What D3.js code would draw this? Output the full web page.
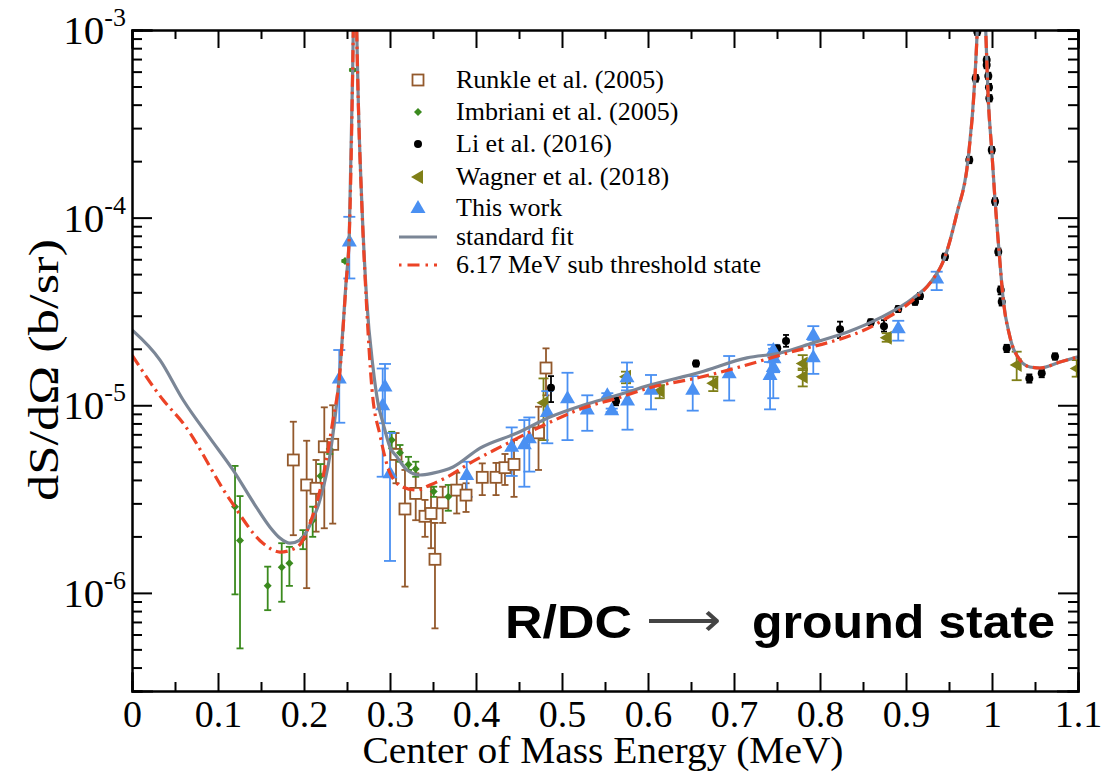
<!DOCTYPE html>
<html>
<head>
<script src="https://d3js.org/d3.v7.min.js"></script>
<style>
  body { margin: 0; background: #fff; }
  svg { display: block; }
  .ax path, .ax line { stroke: #000; stroke-width: 2; }
  .ax text { font-family: "Liberation Serif", "Times New Roman", serif; font-size: 38px; fill: #000; }
</style>
</head>
<body>
<svg id="chart" width="1104" height="773"></svg>
<script>
// fitted curves [E (MeV), dS/dOmega (b/sr)]
var stdFit = [
  [0, 2.52e-5], [0.0326, 1.74e-5], [0.0593, 1.07e-5], [0.0907, 6.68e-6], [0.1174, 4.52e-6],
  [0.143, 2.94e-6], [0.1605, 2.24e-6], [0.172, 1.96e-6], [0.1837, 1.84e-6], [0.1953, 1.91e-6],
  [0.207, 2.30e-6], [0.2186, 3.13e-6], [0.2302, 5.43e-6], [0.2384, 1.07e-5], [0.241, 1.41e-5],
  [0.2488, 4.48e-5], [0.2527, 8.28e-5], [0.2566, 6.12e-4], [0.2573, 1.0e-3], [0.2593, 5e-3],
  [0.2613, 1.0e-3], [0.2631, 4.24e-4], [0.2671, 1.24e-4], [0.2729, 3.64e-5], [0.2802, 1.60e-5],
  [0.286, 1.03e-5], [0.2919, 8.04e-6], [0.30, 5.98e-6], [0.3081, 5.30e-6], [0.3198, 4.52e-6],
  [0.3349, 4.25e-6], [0.35, 4.35e-6], [0.3733, 4.69e-6], [0.4047, 5.91e-6], [0.4477, 7.11e-6],
  [0.486, 8.65e-6], [0.5244, 1.0e-5], [0.564, 1.13e-5], [0.6023, 1.28e-5], [0.6605, 1.50e-5],
  [0.7151, 1.79e-5], [0.7535, 1.90e-5], [0.7919, 2.15e-5], [0.8314, 2.45e-5], [0.8698, 2.92e-5],
  [0.9081, 3.72e-5], [0.9279, 4.48e-5], [0.9453, 6.17e-5], [0.9593, 1.06e-4], [0.9721, 2.03e-4],
  [0.9802, 5.61e-4], [0.9829, 1.0e-3], [0.9878, 5e-3], [0.9927, 1.0e-3], [0.9957, 4.24e-4],
  [0.9997, 2.29e-4], [1.0035, 1.24e-4], [1.0081, 6.72e-5], [1.0131, 3.64e-5], [1.0209, 2.31e-5],
  [1.0326, 1.74e-5], [1.0442, 1.60e-5], [1.0558, 1.58e-5], [1.0791, 1.70e-5], [1.1, 1.81e-5]
];
var subFit = [
  [0, 1.85e-5], [0.036, 1.07e-5], [0.0593, 8.04e-6], [0.114, 3.13e-6], [0.1523, 1.84e-6],
  [0.172, 1.65e-6], [0.1919, 1.75e-6], [0.207, 2.35e-6], [0.2221, 4.14e-6], [0.2337, 8.34e-6],
  [0.241, 1.38e-5], [0.2488, 4.4e-5], [0.2527, 8.2e-5], [0.2566, 6.1e-4], [0.2573, 1.0e-3],
  [0.2593, 5e-3], [0.2613, 1.0e-3], [0.2631, 4.2e-4], [0.2671, 1.22e-4], [0.2729, 3.3e-5],
  [0.2791, 1.21e-5], [0.2884, 6.93e-6], [0.30, 4.35e-6], [0.3151, 3.66e-6], [0.3314, 3.53e-6],
  [0.3465, 3.76e-6], [0.3663, 4.14e-6], [0.393, 4.92e-6], [0.4279, 5.98e-6], [0.4744, 7.66e-6],
  [0.5244, 9.66e-6], [0.564, 1.09e-5], [0.6023, 1.24e-5], [0.6605, 1.41e-5], [0.7535, 1.85e-5],
  [0.8698, 2.78e-5], [0.9081, 3.64e-5], [0.9279, 4.48e-5], [0.9453, 6.17e-5], [0.9593, 1.06e-4],
  [0.9721, 2.03e-4], [0.9802, 5.61e-4], [0.9829, 1.0e-3], [0.9878, 5e-3], [0.9927, 1.0e-3],
  [0.9957, 4.24e-4], [0.9997, 2.29e-4], [1.0035, 1.24e-4], [1.0081, 6.72e-5], [1.0131, 3.64e-5],
  [1.0209, 2.31e-5], [1.0326, 1.74e-5], [1.0442, 1.60e-5], [1.0558, 1.58e-5], [1.0791, 1.70e-5],
  [1.1, 1.81e-5]
];

// data sets [E, S, S low, S high]
var runkle = [
  [0.1876, 5.11e-6, 2.03e-6, 8.17e-6], [0.2031, 3.76e-6, 1.06e-6, 6.47e-6], [0.214, 3.61e-6, 2.12e-6, 5.11e-6],
  [0.2236, 6.01e-6, 2.21e-6, 9.75e-6], [0.2334, 6.19e-6, 2.34e-6, 1.0e-5], [0.307, 5.47e-6, 3.84e-6, 7.11e-6],
  [0.3174, 2.80e-6, 1.08e-6, 4.52e-6], [0.3299, 3.39e-6, 2.44e-6, 4.34e-6], [0.3407, 2.56e-6, 1.99e-6, 3.13e-6],
  [0.3477, 2.65e-6, 1.73e-6, 3.68e-6], [0.3523, 1.51e-6, 6.47e-7, 2.36e-6], [0.3613, 3.02e-6, 2.36e-6, 3.68e-6],
  [0.3776, 3.53e-6, 2.65e-6, 4.37e-6], [0.3884, 3.32e-6, 2.70e-6, 3.84e-6], [0.4073, 4.13e-6, 3.32e-6, 4.90e-6],
  [0.4233, 4.13e-6, 3.32e-6, 4.93e-6], [0.4337, 4.65e-6, 3.76e-6, 5.50e-6], [0.4442, 4.84e-6, 3.25e-6, 6.52e-6],
  [0.4727, 7.13e-6, 4.52e-6, 9.82e-6], [0.4814, 1.58e-5, 1.13e-5, 2.01e-5]
];
var imbriani = [
  [0.1198, 2.88e-6, 9.82e-7, 4.75e-6], [0.1256, 1.90e-6, 5.06e-7, 3.28e-6], [0.1578, 1.09e-6, 8.09e-7, 1.38e-6],
  [0.1741, 1.37e-6, 8.97e-7, 1.84e-6], [0.183, 1.44e-6, 1.09e-6, 1.76e-6], [0.1988, 1.95e-6, 1.71e-6, 2.16e-6],
  [0.2101, 2.44e-6, 1.99e-6, 2.88e-6], [0.2192, 4.20e-6, 3.53e-6, 4.86e-6], [0.2299, 5.85e-6, 5.5e-6, 6.21e-6],
  [0.2477, 5.87e-5, 5.8e-5, 5.95e-5], [0.2566, 6.12e-4, 6.05e-4, 6.2e-4], [0.302, 6.52e-6, 5.89e-6, 7.22e-6],
  [0.3116, 5.58e-6, 5.0e-6, 6.14e-6], [0.3215, 4.84e-6, 4.52e-6, 5.31e-6], [0.3299, 4.57e-6, 4.16e-6, 5.0e-6],
  [0.3508, 3.47e-6, 3.25e-6, 3.68e-6], [0.3678, 3.25e-6, 2.74e-6, 3.76e-6]
];
var li = [
  [0.4872, 1.24e-5, 1.04e-5, 1.43e-5], [0.5628, 1.05e-5, 1.0e-5, 1.1e-5], [0.6558, 1.67e-5, 1.61e-5, 1.73e-5],
  [0.7503, 2.01e-5, 1.93e-5, 2.09e-5], [0.7605, 2.20e-5, 2.05e-5, 2.37e-5], [0.8233, 2.54e-5, 2.28e-5, 2.79e-5],
  [0.859, 2.77e-5, 2.67e-5, 2.87e-5], [0.8744, 2.64e-5, 2.47e-5, 2.84e-5], [0.891, 3.26e-5, 3.14e-5, 3.38e-5],
  [0.9105, 3.56e-5, 3.43e-5, 3.69e-5], [0.9163, 3.82e-5, 3.68e-5, 3.96e-5], [0.9453, 6.19e-5, 5.95e-5, 6.43e-5],
  [0.9736, 2.03e-4, 1.95e-4, 2.11e-4], [0.981, 5.53e-4, 5.3e-4, 5.76e-4], [0.9829, 9.8e-4, 9.4e-4, 1.0e-3],
  [0.9938, 6.92e-4, 6.65e-4, 7.2e-4], [0.9938, 6.50e-4, 6.25e-4, 6.76e-4], [0.9957, 5.69e-4, 5.47e-4, 5.92e-4],
  [0.9965, 4.96e-4, 4.77e-4, 5.16e-4], [0.9969, 4.33e-4, 4.16e-4, 4.5e-4], [0.9997, 2.29e-4, 2.2e-4, 2.38e-4],
  [1.0035, 1.22e-4, 1.17e-4, 1.27e-4], [1.0073, 6.58e-5, 6.3e-5, 6.85e-5], [1.0101, 4.11e-5, 3.9e-5, 4.3e-5],
  [1.0113, 3.56e-5, 3.4e-5, 3.72e-5], [1.0171, 2.01e-5, 1.92e-5, 2.1e-5], [1.0434, 1.39e-5, 1.32e-5, 1.46e-5],
  [1.0578, 1.48e-5, 1.41e-5, 1.55e-5], [1.0733, 1.82e-5, 1.75e-5, 1.89e-5]
];
var wagner = [
  [0.4785, 1.03e-5, 6.52e-6, 1.39e-5], [0.5744, 1.42e-5, 1.31e-5, 1.51e-5], [0.6136, 1.19e-5, 1.09e-5, 1.28e-5],
  [0.6759, 1.31e-5, 1.19e-5, 1.42e-5], [0.7799, 1.67e-5, 1.54e-5, 1.85e-5], [0.7799, 1.42e-5, 1.26e-5, 1.57e-5],
  [0.8776, 2.29e-5, 2.18e-5, 2.42e-5], [1.0287, 1.64e-5, 1.36e-5, 1.93e-5], [1.0985, 1.57e-5, 1.42e-5, 1.74e-5]
];
var thisWork = [
  [0.241, 1.39e-5, 8.07e-6, 1.97e-5], [0.2527, 7.45e-5, 4.74e-5, 1.01e-4], [0.2942, 1.26e-5, 8.02e-6, 1.66e-5],
  [0.2915, 1.0e-5, 4.16e-6, 1.57e-5], [0.30, 4.34e-6, 1.48e-6, 7.11e-6], [0.3892, 4.25e-6, 3.25e-6, 5.0e-6],
  [0.4415, 6.01e-6, 4.20e-6, 7.62e-6], [0.4562, 6.19e-6, 3.68e-6, 8.34e-6], [0.462, 6.67e-6, 4.43e-6, 8.61e-6],
  [0.4829, 9.21e-6, 6.27e-6, 1.19e-5], [0.5064, 1.09e-5, 6.52e-6, 1.49e-5], [0.5294, 9.48e-6, 7.31e-6, 1.13e-5],
  [0.5527, 1.13e-5, 1.1e-5, 1.16e-5], [0.5578, 9.42e-6, 9.2e-6, 9.6e-6], [0.5756, 1.41e-5, 1.2e-5, 1.69e-5],
  [0.5762, 1.06e-5, 7.41e-6, 1.25e-5], [0.6035, 1.21e-5, 9.51e-6, 1.45e-5], [0.652, 1.21e-5, 9.36e-6, 1.43e-5],
  [0.6944, 1.48e-5, 1.06e-5, 1.83e-5], [0.7419, 1.45e-5, 9.51e-6, 1.7e-5], [0.7457, 1.60e-5, 1.09e-5, 1.85e-5],
  [0.7465, 1.78e-5, 1.5e-5, 2.0e-5], [0.7457, 1.97e-5, 1.8e-5, 2.1e-5], [0.7922, 2.37e-5, 2.1e-5, 2.64e-5],
  [0.7922, 1.80e-5, 1.47e-5, 2.23e-5], [0.891, 2.57e-5, 2.21e-5, 2.82e-5], [0.9357, 4.74e-5, 4.11e-5, 5.15e-5]
];

var legendLabels = ["Runkle et al. (2005)", "Imbriani et al. (2005)", "Li et al. (2016)",
  "Wagner et al. (2018)", "This work", "standard fit", "6.17 MeV sub threshold state"];

var xTicks = [0, 0.1, 0.2, 0.3, 0.4, 0.5, 0.6, 0.7, 0.8, 0.9, 1.0, 1.1];
var xMinor = [0.05, 0.15, 0.25, 0.35, 0.45, 0.55, 0.65, 0.75, 0.85, 0.95, 1.05];
var yTicks = [1e-6, 1e-5, 1e-4, 1e-3];
var yExps = ["-6", "-5", "-4", "-3"];

var mL = 132, mR = 1078, mT = 30, mB = 691;
var svg = d3.select("#chart");

var x = d3.scaleLinear().domain([0, 1.1]).range([mL, mR]);
var y = d3.scaleLog().domain([3e-7, 1e-3]).range([mB, mT]);

var yMinor = [];
[1e-7, 1e-6, 1e-5, 1e-4].forEach(function(d) {
  for (var k = 2; k <= 9; k++) {
    var v = d * k;
    if (v >= 3e-7 && v < 1e-3) yMinor.push(v);
  }
});

svg.append("defs").append("clipPath").attr("id", "clip")
  .append("rect").attr("x", mL).attr("y", mT).attr("width", mR - mL).attr("height", mB - mT);

// data with error bars
var plot = svg.append("g").attr("clip-path", "url(#clip)");

function errorBars(data, color, cap, width) {
  var g = plot.append("g").attr("stroke", color).attr("stroke-width", width).attr("fill", "none");
  data.forEach(function(d) {
    var cx = x(d[0]);
    g.append("line").attr("x1", cx).attr("x2", cx).attr("y1", y(d[2])).attr("y2", y(d[3]));
    g.append("line").attr("x1", cx - cap).attr("x2", cx + cap).attr("y1", y(d[2])).attr("y2", y(d[2]));
    g.append("line").attr("x1", cx - cap).attr("x2", cx + cap).attr("y1", y(d[3])).attr("y2", y(d[3]));
  });
}

var cRunkle = "#93592c", cImb = "#3b8a1e", cLi = "#000000", cWag = "#7f7f17", cThis = "#4a90f2";
var cStd = "#7b8696", cSub = "#ec4326";

errorBars(runkle, cRunkle, 3.5, 1.8);
errorBars(imbriani, cImb, 3.5, 1.8);
errorBars(li, cLi, 3, 1.8);
errorBars(wagner, cWag, 5, 1.8);
errorBars(thisWork, cThis, 6, 1.8);

function drawSymbols(g, data, kind) {
  data.forEach(function(d) {
    drawSymbol(g, kind, x(d[0]), y(d[1]));
  });
}
function drawSymbol(g, kind, cx, cy) {
  if (kind === "square") {
    g.append("rect").attr("x", cx - 5.5).attr("y", cy - 5.5).attr("width", 11).attr("height", 11)
      .attr("fill", "#fff").attr("stroke", cRunkle).attr("stroke-width", 1.8);
  } else if (kind === "diamond") {
    g.append("path").attr("d", "M" + cx + "," + (cy - 4) + "L" + (cx + 4) + "," + cy + "L" + cx + "," + (cy + 4) + "L" + (cx - 4) + "," + cy + "Z")
      .attr("fill", cImb);
  } else if (kind === "circle") {
    g.append("circle").attr("cx", cx).attr("cy", cy).attr("r", 4).attr("fill", cLi);
  } else if (kind === "left") {
    g.append("path").attr("d", "M" + (cx - 7) + "," + cy + "L" + (cx + 5) + "," + (cy - 7) + "L" + (cx + 5) + "," + (cy + 7) + "Z")
      .attr("fill", cWag);
  } else if (kind === "up") {
    g.append("path").attr("d", "M" + cx + "," + (cy - 8) + "L" + (cx + 7.5) + "," + (cy + 5) + "L" + (cx - 7.5) + "," + (cy + 5) + "Z")
      .attr("fill", cThis);
  }
}

var gSym = plot.append("g");
drawSymbols(gSym, runkle, "square");
drawSymbols(gSym, imbriani, "diamond");
drawSymbols(gSym, li, "circle");
drawSymbols(gSym, wagner, "left");
drawSymbols(gSym, thisWork, "up");

// fit curves
var line = d3.line().x(function(d) { return x(d[0]); }).y(function(d) { return y(d[1]); })
  .curve(d3.curveMonotoneX);
plot.append("path").datum(stdFit).attr("d", line)
  .attr("fill", "none").attr("stroke", cStd).attr("stroke-width", 3.2);
plot.append("path").datum(subFit).attr("d", line)
  .attr("fill", "none").attr("stroke", cSub).attr("stroke-width", 3.2)
  .attr("stroke-dasharray", "12,5,2.5,5");

// axes, ticks inward on all four sides
function addAxis(axis, tx, ty) {
  svg.append("g").attr("class", "ax").attr("transform", "translate(" + tx + "," + ty + ")").call(axis);
}
addAxis(d3.axisBottom(x).tickValues(xTicks).tickSize(-18).tickPadding(9).tickFormat(d3.format("")), 0, mB);
addAxis(d3.axisBottom(x).tickValues(xMinor).tickSize(-9).tickFormat(""), 0, mB);
addAxis(d3.axisTop(x).tickValues(xTicks).tickSize(-18).tickFormat(""), 0, mT);
addAxis(d3.axisTop(x).tickValues(xMinor).tickSize(-9).tickFormat(""), 0, mT);
addAxis(d3.axisLeft(y).tickValues(yTicks).tickSize(-20).tickFormat(""), mL, 0);
addAxis(d3.axisLeft(y).tickValues(yMinor).tickSize(-10).tickFormat(""), mL, 0);
addAxis(d3.axisRight(y).tickValues(yTicks).tickSize(-20).tickFormat(""), mR, 0);
addAxis(d3.axisRight(y).tickValues(yMinor).tickSize(-10).tickFormat(""), mR, 0);
svg.selectAll(".ax path").attr("stroke-linecap", "square");

// y tick labels 10^n
yTicks.forEach(function(v, i) {
  var t = svg.append("text")
    .attr("x", 126).attr("y", y(v) + 14)
    .attr("text-anchor", "end")
    .style("font-family", "Liberation Serif, serif").style("font-size", "41px");
  t.append("tspan").text("10");
  t.append("tspan").attr("dy", -18).style("font-size", "26px").text(yExps[i]);
});

svg.append("text")
  .attr("x", 603).attr("y", 763)
  .attr("text-anchor", "middle")
  .attr("textLength", 481).attr("lengthAdjust", "spacingAndGlyphs")
  .style("font-family", "Liberation Serif, serif").style("font-size", "38px")
  .text("Center of Mass Energy (MeV)");

svg.append("text")
  .attr("transform", "translate(58,370) rotate(-90)")
  .attr("text-anchor", "middle")
  .attr("textLength", 262).attr("lengthAdjust", "spacingAndGlyphs")
  .style("font-family", "Liberation Serif, serif").style("font-size", "42px")
  .text("dS/d\u03A9 (b/sr)");

// legend
var lg = svg.append("g");
var rowY = [80, 112, 144, 177, 208, 237, 265];
var kinds = ["square", "diamond", "circle", "left", "up"];
legendLabels.forEach(function(lab, i) {
  if (i < 5) {
    drawSymbol(lg, kinds[i], 418, rowY[i]);
  } else {
    lg.append("line").attr("x1", 399).attr("x2", 437).attr("y1", rowY[i]).attr("y2", rowY[i])
      .attr("stroke", i === 5 ? cStd : cSub).attr("stroke-width", 3.2)
      .attr("stroke-dasharray", i === 5 ? null : "2.5,6,12,6");
  }
  lg.append("text").attr("x", 456).attr("y", rowY[i] + 8)
    .style("font-family", "Liberation Serif, serif").style("font-size", "26px")
    .text(lab);
});

// annotation
var ann = svg.append("g")
  .style("font-family", "Liberation Sans, Arial, sans-serif").style("font-weight", "bold").style("font-size", "47px");
ann.append("text").attr("x", 505).attr("y", 638).attr("textLength", 127).attr("lengthAdjust", "spacingAndGlyphs").text("R/DC");
ann.append("text").attr("x", 646).attr("y", 636).attr("textLength", 75).attr("lengthAdjust", "spacingAndGlyphs")
  .style("font-weight", "normal").style("fill", "#444").text("\u27F6");
ann.append("text").attr("x", 752).attr("y", 638).attr("textLength", 303).attr("lengthAdjust", "spacingAndGlyphs").text("ground state");
</script>
</body>
</html>
